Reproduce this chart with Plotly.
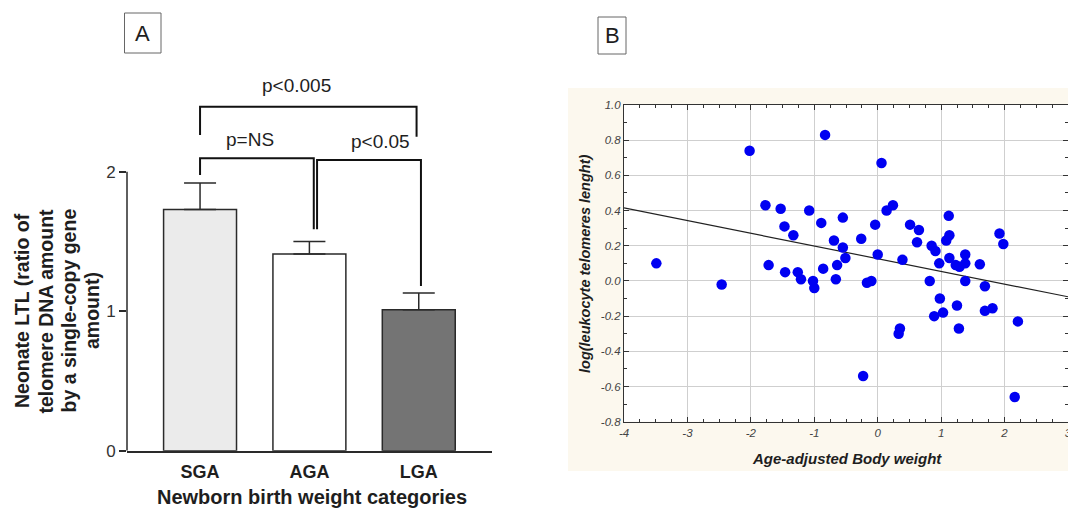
import plotly.graph_objects as go

# ---------------- Panel A data ----------------
categories = ["SGA", "AGA", "LGA"]
ltl_mean = [1.73, 1.41, 1.01]
ltl_err_top = [1.92, 1.50, 1.13]
bar_colors = ["#ebebeb", "#ffffff", "#747474"]
p_labels = ["p<0.005", "p=NS", "p<0.05"]

# ---------------- Panel B data ----------------
body_weight = [-3.49, -2.46, -2.02, -0.83, 0.06, -1.77, -1.53, -1.08, -1.47, -1.33,
               -0.89, -0.55, -0.69, -0.55, -0.51, -0.26, -0.04, 0.00, 0.14, 0.24,
               -1.72, -1.46, -1.26, -1.21, -1.02, -1.00, -0.86, -0.64, -0.66, -0.17,
               -0.10, 0.39, 0.51, 0.65, 0.62, 0.85, 0.91, 0.82, 0.97, 1.12,
               1.08, 1.13, 1.13, 1.23, 1.29, 1.38, 1.38, 1.38, 1.61, 1.92,
               1.98, 1.69, 0.98, 1.03, 0.89, 1.25, 1.28, 1.69, 1.81, 2.21,
               0.35, 0.33, -0.23, 2.16]
log_ltl = [0.10, -0.02, 0.74, 0.83, 0.67, 0.43, 0.41, 0.40, 0.31, 0.26,
           0.33, 0.36, 0.23, 0.19, 0.13, 0.24, 0.32, 0.15, 0.40, 0.43,
           0.09, 0.05, 0.05, 0.01, 0.00, -0.04, 0.07, 0.09, 0.01, -0.01,
           0.00, 0.12, 0.32, 0.29, 0.22, 0.20, 0.17, 0.00, 0.10, 0.37,
           0.23, 0.26, 0.13, 0.09, 0.08, 0.15, 0.10, 0.00, 0.095, 0.27,
           0.21, -0.03, -0.10, -0.18, -0.20, -0.14, -0.27, -0.17, -0.155, -0.23,
           -0.27, -0.30, -0.54, -0.66]
fit_x = [-4.0, 3.0]
fit_y = [0.415, -0.09]
xb_ticks = [-4, -3, -2, -1, 0, 1, 2, 3]
yb_ticks = [-0.8, -0.6, -0.4, -0.2, 0.0, 0.2, 0.4, 0.6, 0.8, 1.0]

W, H = 1068, 510
def px(x):
    return x / W
def py(y):
    return (H - y) / H

FONT = "Liberation Sans, Arial, sans-serif"
INK = "#1e1e1e"

fig = go.Figure()

# Panel A bars
fig.add_trace(go.Bar(
    x=list(range(len(categories))), y=ltl_mean, width=0.667,
    marker=dict(color=bar_colors, line=dict(color="#2a2a2a", width=1.5)),
    error_y=dict(type="data", symmetric=False,
                 array=[t - m for t, m in zip(ltl_err_top, ltl_mean)],
                 arrayminus=[0] * len(ltl_mean),
                 color="#2a2a2a", thickness=1.5, width=16),
    xaxis="x", yaxis="y", hoverinfo="skip"))

# Panel B scatter and fit line
fig.add_trace(go.Scatter(
    x=fit_x, y=fit_y, mode="lines", line=dict(color="#222", width=1.2),
    xaxis="x2", yaxis="y2", hoverinfo="skip"))
fig.add_trace(go.Scatter(
    x=body_weight, y=log_ltl, mode="markers",
    marker=dict(color="#0000f2", size=10.5, line=dict(width=0)),
    xaxis="x2", yaxis="y2"))

shapes = []
annotations = []

def note(x, y, text, font, angle=0):
    annotations.append(dict(xref="paper", yref="paper", x=px(x), y=py(y), text=text,
                            textangle=angle, showarrow=False, xanchor="center",
                            yanchor="middle", font=font))

# backgrounds
shapes.append(dict(type="rect", xref="paper", yref="paper",
                   x0=px(568), x1=1.0, y0=py(471), y1=py(88),
                   fillcolor="#fcf8ee", line=dict(width=0), layer="below"))
shapes.append(dict(type="rect", xref="x2", yref="y2",
                   x0=xb_ticks[0], x1=xb_ticks[-1], y0=yb_ticks[0], y1=yb_ticks[-1],
                   fillcolor="#ffffff", line=dict(width=0), layer="below"))

# Panel A y-axis line (0..2)
shapes.append(dict(type="line", xref="x domain", yref="y", x0=0, x1=0, y0=0, y1=2,
                   line=dict(color="#2a2a2a", width=1.5)))

# brackets
def bracket(xa, xb, ytop, ya, yb, label, ylab, xlab):
    shapes.append(dict(type="path", xref="x", yref="y",
                       path=f"M {xa},{ya} L {xa},{ytop} L {xb},{ytop} L {xb},{yb}",
                       line=dict(color="#111", width=2)))
    annotations.append(dict(xref="x", yref="y", x=xlab, y=ylab, text=label,
                            showarrow=False, xanchor="center", yanchor="middle",
                            font=dict(family=FONT, size=19, color=INK)))

bracket(0, 1.98, 2.466, 2.263, 2.25, p_labels[0], 2.615, 0.88)
bracket(0, 1.04, 2.096, ltl_err_top[0] + 0.056, ltl_err_top[1] + 0.087, p_labels[1], 2.23, 0.46)
bracket(1.07, 2.02, 2.084, ltl_err_top[1] + 0.087, ltl_err_top[2] + 0.05, p_labels[2], 2.215, 1.65)

# A / B boxes
shapes.append(dict(type="rect", xref="paper", yref="paper",
                   x0=px(124.5), x1=px(161), y0=py(53), y1=py(13),
                   line=dict(color="#666", width=1)))
shapes.append(dict(type="rect", xref="paper", yref="paper",
                   x0=px(598), x1=px(626), y0=py(54), y1=py(17),
                   line=dict(color="#666", width=1)))
note(142.7, 34, "A", dict(family=FONT, size=22, color=INK))
note(612, 36, "B", dict(family=FONT, size=22, color=INK))

# Panel A axis titles
ytitle_lines = ["Neonate LTL (ratio of", "telomere DNA amount",
                "by a single-copy gene", "amount)"]
for xc, line in zip([22, 45.5, 68.5, 92], ytitle_lines):
    note(xc, 311, line, dict(family=FONT, size=19.5, color=INK, weight="bold"), angle=-90)
note(312, 497, "Newborn birth weight categories",
     dict(family=FONT, size=20, color=INK, weight="bold"))

# Panel B axis titles
note(585, 264, "log(leukocyte telomeres lenght)",
     dict(family=FONT, size=14.5, color=INK, weight="bold", style="italic"), angle=-90)
note(847, 458, "Age-adjusted Body weight",
     dict(family=FONT, size=15, color=INK, weight="bold", style="italic"))

fig.update_layout(
    width=W, height=H, margin=dict(l=0, r=0, t=0, b=0, autoexpand=False),
    paper_bgcolor="#ffffff", plot_bgcolor="#ffffff", showlegend=False,
    shapes=shapes, annotations=annotations,
    xaxis=dict(domain=[px(127), px(491.7)], range=[-0.668, 2.667], anchor="y",
               tickvals=list(range(len(categories))), ticktext=categories,
               showline=True, linecolor="#2a2a2a", linewidth=1.5, ticks="",
               showgrid=False, zeroline=False, ticklabelstandoff=4,
               tickfont=dict(family=FONT, size=18, color=INK, weight="bold")),
    yaxis=dict(domain=[py(450.7), py(67.1)], range=[0, 2.75], anchor="x",
               tickvals=[0, 1, 2], ticks="outside", ticklen=7, tickwidth=1.5,
               tickcolor="#2a2a2a", showline=False, showgrid=False, zeroline=False,
               tickfont=dict(family=FONT, size=17, color="#333")),
    xaxis2=dict(domain=[px(624), 1.0], range=[xb_ticks[0], xb_ticks[-1]], anchor="y2",
                tickvals=xb_ticks, ticktext=[str(v) for v in xb_ticks],
                ticklabeloverflow="allow",
                ticks="inside", ticklen=5, tickcolor="#333", mirror="ticks",
                showline=True, linecolor="#333", linewidth=1,
                showgrid=True, gridcolor="#cfcfcf", gridwidth=1, zeroline=False,
                minor=dict(ticks="inside", ticklen=3, dtick=0.25, tickcolor="#333", showgrid=False),
                tickfont=dict(family=FONT, size=11.5, color="#444", style="italic")),
    yaxis2=dict(domain=[py(421.7), py(105)], range=[yb_ticks[0], yb_ticks[-1]], anchor="x2",
                tickvals=yb_ticks, ticktext=[f"{v:.1f}" for v in yb_ticks],
                ticks="inside", ticklen=5, tickcolor="#333", mirror="ticks",
                showline=True, linecolor="#333", linewidth=1,
                showgrid=True, gridcolor="#cfcfcf", gridwidth=1, zeroline=False,
                minor=dict(ticks="inside", ticklen=3, dtick=0.1, tickcolor="#333", showgrid=False),
                tickfont=dict(family=FONT, size=11.5, color="#444", style="italic")),
)

fig.write_html("out.html", config={"displayModeBar": False},
               post_script="document.body.style.margin='0';document.body.style.overflow='hidden';")
